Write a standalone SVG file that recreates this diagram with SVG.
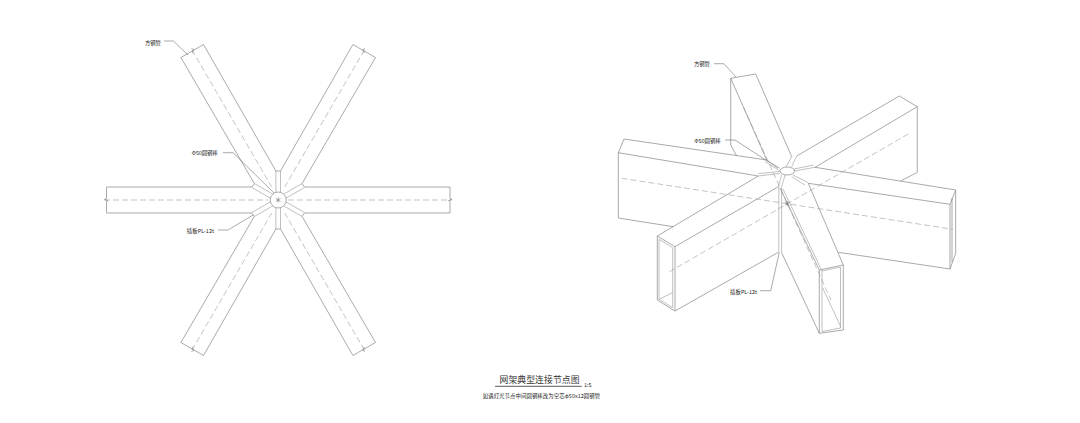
<svg xmlns="http://www.w3.org/2000/svg" width="1080" height="423" viewBox="0 0 1080 423">
<style>
.l{fill:none;stroke:#858585;stroke-width:.7}
.h{fill:none;stroke:#959595;stroke-width:.6}
.d{fill:none;stroke:#9a9a9a;stroke-width:.6;stroke-dasharray:6 3}
.r{fill:none;stroke:#707070;stroke-width:.6}
.c{fill:#fff;stroke:#858585;stroke-width:.7}
.t{font-family:"Noto Sans CJK SC","Liberation Sans",sans-serif;font-size:5.4px;fill:#222}
.n{font-family:"Noto Sans CJK SC",sans-serif;fill:#333}
</style>
<rect width="1080" height="423" fill="#fff"/>

<g id="plan-view">
<g id="plan-arms">
<path class="l" d="M106.5 198.5V187H251.9L254.3 183.5L180.9 57.5L203.5 44.5L275.9 171H280.5L352.9 44.5L375.5 57.5L302.1 183.5L304.5 187H450V198.5"/>
<path class="l" d="M106.5 201.5V213H251.9L254.3 216.5L180.9 342.5L203.5 355.5L275.9 229H280.5L352.9 355.5L375.5 342.5L302.1 216.5L304.5 213H450V201.5"/>
</g>
<g id="plan-plates">
<path class="h" d="M275.9 171V192.4M280.5 171V192.4M275.9 229V207.6M280.5 229V207.6"/>
<path class="h" d="M302.1 183.5L283.6 194.2M304.5 187.5L286 198.2M304.5 212.5L286 201.8M302.1 216.5L283.6 205.8"/>
<path class="h" d="M254.3 183.5L272.8 194.2M251.9 187.5L270.4 198.2M251.9 212.5L270.4 201.8M254.3 216.5L272.8 205.8"/>
</g>
<circle id="plan-rod" class="c" cx="278.2" cy="200" r="8"/>
<path class="r" d="M276 198.5L280.5 201.5M280.5 198.5L276 201.5M278.2 197.5V202.5"/>
<g id="plan-centrelines">
<path class="d" d="M104 200H268M288 200H452"/>
<path class="d" d="M192 50L271.7 187M364.4 50L284.7 187M192 350L271.7 213M364.4 350L284.7 213"/>
</g>
<path class="r" d="M106.5 198.5L104.5 199.5L108 200.5L106.5 201.5M450 198.5L452 199.5L448.5 200.5L450 201.5M191.5 48.5L193.8 49.5L192.2 53M365 48.5L362.8 49.5L364.3 53M191.5 351.5L193.8 350.5L192.2 347M365 351.5L362.8 350.5L364.3 347"/>
</g>

<g id="iso-view">
<g id="iso-top-arm">
<path class="l" d="M736.7 156L730.7 145V78.3L755.7 74L791.7 156.7M730.7 78.3L766.7 160"/>
</g>
<g id="iso-upper-right-arm">
<path class="l" d="M796.7 156L899.3 96L917.3 106.7V172.3L900.7 181M917.3 106.7L815 167.3"/>
</g>
<g id="iso-beam">
<path class="l" d="M766.7 160L624 139L618.3 152.7V218L673.3 226.7M618.3 152.7L758.3 176"/>
<path class="l" d="M815 167.3L955.7 190V253.3L950 269L838.3 252.3M808.3 183.3L950 204.3V269M955.7 190L950 204.3"/>
<path class="l" d="M952 198V262"/>
</g>
<g id="iso-lower-left-arm">
<path class="l" d="M758.3 176L657.3 236V300L675 311V246.7L657.3 236M675 246.7L778.3 186.7M675 311L778.3 252.3"/>
<path class="h" d="M659 239.3L672.7 247.7V307.7L659 299.3ZM659 299.3L672.7 292.7"/>
</g>
<g id="iso-lower-right-arm">
<path class="l" d="M808.3 183.3L843.3 265V330L819.3 333.3L781.5 252.3M843.3 265L819.3 270V333.3M780 188L819.3 270"/>
<path class="h" d="M783 189L822 271"/>
<path class="h" d="M822 271L840.5 267V328L822 331.5ZM822.7 288L840.7 326.7"/>
</g>
<g id="iso-plates">
<path class="h" d="M778.8 187V252.3M781.6 187V252.3"/>
<path class="h" d="M791.7 156.7L786 167M796.7 156L791.7 166.7"/>
<path class="h" d="M794 169L813.5 165M794 171L815 167.3"/>
<path class="h" d="M793 175L808.3 182.7M791.7 176.7L805 185"/>
<path class="h" d="M785 175L781.7 186.7M781.7 175L778.3 186.7"/>
<path class="h" d="M758.3 173.6L780 171.5M758.3 176L780 173.5"/>
<path class="h" d="M766.7 160L780 168.3M765 161.7L778.7 170"/>
</g>
<ellipse id="iso-rod" class="c" cx="787.3" cy="171" rx="7.3" ry="4"/>
<g id="iso-centrelines">
<path class="d" d="M621.7 178.3L953 229.3"/>
<path class="d" d="M908.3 134L666.7 273.3"/>
<path class="d" d="M743.5 107L831 300"/>
</g>
<path class="r" d="M785 202L789.5 205.5M789.5 202L785 205.5M787.3 201V206"/>
</g>

<g id="connectors">
<path class="r" d="M164 41H173.3L188 55"/>
<path class="r" d="M223 152.7H233L274 193"/>
<path class="r" d="M218 230H228L253 215"/>
<path class="r" d="M714 63.7H724L736 77"/>
<path class="r" d="M725 140H735L778 168"/>
<path class="r" d="M760 290.7H770.7L779.3 252.3"/>
</g>

<g id="labels">
<text class="t" x="145" y="44.5" textLength="16">方钢管</text>
<text class="t" x="191.7" y="155" textLength="26">Φ50圆钢棒</text>
<text class="t" x="186.7" y="232.5" textLength="27.3">插板PL-12t</text>
<text class="t" x="694" y="65.7" textLength="16">方钢管</text>
<text class="t" x="694.3" y="143" textLength="26.4">Φ50圆钢棒</text>
<text class="t" x="730" y="293.7" textLength="27">插板PL-12t</text>
</g>

<g id="title">
<text class="n" x="499.5" y="382.5" font-size="8.8" textLength="80">网架典型连接节点图</text>
<path d="M495 386.3H581.7" fill="none" stroke="#333" stroke-width=".8"/>
<text class="t" x="584" y="387" textLength="7.5">1:5</text>
<text class="t" x="482.7" y="398" textLength="117.5">如遇灯光节点中间圆钢棒改为空芯φ50x12圆钢管</text>
</g>
</svg>
